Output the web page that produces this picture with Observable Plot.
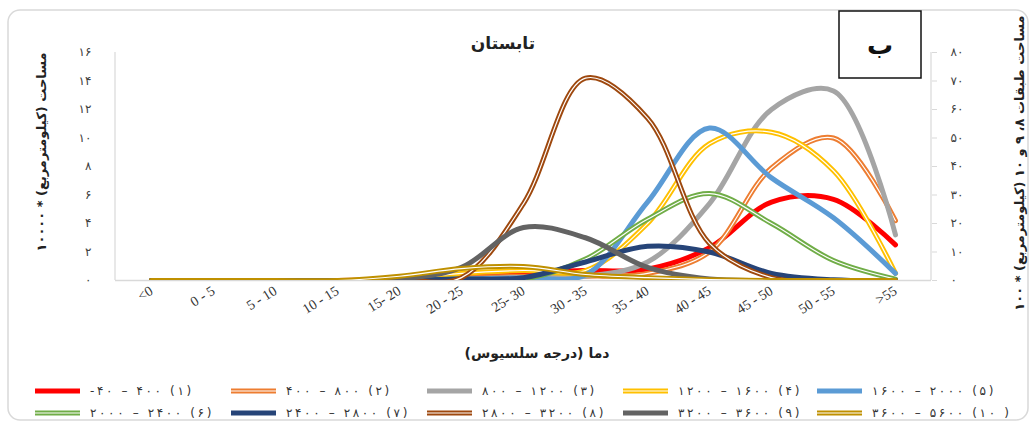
<!DOCTYPE html>
<html><head><meta charset="utf-8">
<script src="https://cdn.jsdelivr.net/npm/d3@7"></script>
<script src="https://cdn.jsdelivr.net/npm/@observablehq/plot@0.6"></script>
<style>
body{margin:0;background:#fff;}
#chart{position:relative;width:1031px;height:425px;}
.ltr{unicode-bidi:bidi-override;direction:ltr;}
</style>
</head><body><div id="chart"></div>
<script>
// ---- data ----
const categories = ["<0","0 - 5","5 - 10","10 - 15","15- 20","20 - 25","25- 30","30 - 35","35 - 40","40 - 45","45 - 50","50 - 55",">55"];
// left axis (km² × 10000)
const s1  = [0,0,0,0,0.1,0.4,0.6,0.7,0.8,2.3,5.5,5.7,2.5];
const s2  = [0,0,0,0,0,0.2,0.3,0.3,0.5,2.0,7.9,10.0,4.2];
const s3  = [0,0,0,0,0,0.1,0.2,0.3,1.3,5.4,12.0,13.3,3.2];
const s4  = [0,0,0,0,0.1,0.5,0.7,0.7,4.0,9.6,10.4,7.7,0.5];
const s5  = [0,0,0,0,0,0.1,0.2,0.4,5.5,10.7,7.2,4.4,0.5];
const s6  = [0,0,0,0,0,0.1,0.1,1.5,4.3,6.1,4.0,1.4,0.1];
const s7  = [0,0,0,0,0,0.1,0.2,1.3,2.4,2.0,0.5,0.05,0];
// right axis (km² × 100)
const s8  = [0,0,0,0,0.2,1,27,71,57,13,1,0,0];
const s9  = [0,0,0,0,0.5,4.6,18.6,15,4.6,0.5,0,0,0];
const s10 = [0,0,0,0,1.5,4.2,4.9,2.1,1.0,0.3,0,0,0];

const seriesLabels = ["-۴۰ – ۴۰۰ (۱)","۴۰۰ – ۸۰۰ (۲)","۸۰۰ – ۱۲۰۰ (۳)","۱۲۰۰ – ۱۶۰۰ (۴)","۱۶۰۰ – ۲۰۰۰ (۵)",
                      "۲۰۰۰ – ۲۴۰۰ (۶)","۲۴۰۰ – ۲۸۰۰ (۷)","۲۸۰۰ – ۳۲۰۰ (۸)","۳۲۰۰ – ۳۶۰۰ (۹)","۳۶۰۰ – ۵۶۰۰ (۱۰ )"];
const seriesColors = ["#FF0000","#ED7D31","#A5A5A5","#FFC000","#5B9BD5","#70AD47","#264478","#9E480E","#636363","#BF9000"];
const seriesAxis   = ["left","left","left","left","left","left","left","right","right","right"];
const seriesStyle  = ["solid","double","solid","double","solid","double","solid","double","solid","double"];
const leftTicks  = [0,2,4,6,8,10,12,14,16];
const rightTicks = [0,10,20,30,40,50,60,70,80];
const axisRatio = 5; // right / left

const titleText = "تابستان";
const panelLetter = "ب";
const xTitle = "دما (درجه سلسیوس)";
const yLeftTitle = "مساحت (کیلومترمربع) * ۱۰۰۰۰";
const yRightTitle = "مساحت طبقات ۸، ۹ و ۱۰ (کیلومترمربع) * ۱۰۰";

// ---- build ----
const fa = s => String(s).replace(/\d/g, d => "۰۱۲۳۴۵۶۷۸۹"[+d]);
const allSeries = [s1,s2,s3,s4,s5,s6,s7,s8,s9,s10];
const rows = [];
allSeries.forEach((vals, i) => vals.forEach((v, j) => rows.push({
  series: i, cat: categories[j], v: seriesAxis[i] === "right" ? v / axisRatio : v
})));

const marks = [Plot.ruleY([0], {stroke: "#d9d9d9", strokeWidth: 1.5})];
allSeries.forEach((_, i) => {
  const d = rows.filter(r => r.series === i);
  marks.push(Plot.line(d, {x: "cat", y: "v", stroke: seriesColors[i], strokeWidth: 5, curve: "catmull-rom", clip: true}));
  if (seriesStyle[i] === "double")
    marks.push(Plot.line(d, {x: "cat", y: "v", stroke: "#fff", strokeWidth: 1.2, curve: "catmull-rom", clip: true}));
});
marks.push(Plot.axisX({tickRotate: -32, tickSize: 0, tickPadding: 9, fontSize: 14, fontFamily: "Liberation Serif", label: null, fill: "#333"}));
marks.push(Plot.axisY({anchor: "left", ticks: leftTicks, tickFormat: fa, tickSize: 0, tickPadding: 24, label: null, fontSize: 12, fill: "#404040"}));
marks.push(Plot.axisY({anchor: "right", ticks: rightTicks.map(t => t / axisRatio), tickFormat: t => fa(Math.round(t * axisRatio)),
  tickSize: 5, tickPadding: 14, label: null, fontSize: 12, stroke: "#d9d9d9", fill: "#404040"}));

const chart = Plot.plot({
  width: 1031, height: 425,
  marginLeft: 115, marginRight: 100, marginTop: 52, marginBottom: 145,
  style: {fontFamily: "DejaVu Sans", background: "#fff", color: "#404040", overflow: "visible"},
  x: {type: "point", domain: categories, padding: 0.5},
  y: {domain: [0, 16]},
  marks
});
document.getElementById("chart").appendChild(chart);

const svg = d3.select(chart);
const ys = chart.scale("y");
const [yb, yt] = ys.range;
const [xl, xr] = [115, 1031 - 100];

// outer rounded border
svg.insert("rect", ":first-child").attr("x", 8).attr("y", 10).attr("width", 1020).attr("height", 410)
  .attr("rx", 12).attr("fill", "none").attr("stroke", "#d9d9d9").attr("stroke-width", 1.5);
// axis lines
svg.append("line").attr("x1", xl).attr("x2", xl).attr("y1", yt).attr("y2", yb).attr("stroke", "#d9d9d9").attr("stroke-width", 1.2);
svg.append("line").attr("x1", xr).attr("x2", xr).attr("y1", yt).attr("y2", yb).attr("stroke", "#d9d9d9").attr("stroke-width", 1.2);

// title
svg.append("text").attr("x", 503).attr("y", 49).attr("text-anchor", "middle").attr("direction", "rtl")
  .attr("font-size", 17).attr("font-weight", "bold").attr("fill", "#222").text(titleText);
// panel box
svg.append("rect").attr("x", 839).attr("y", 11).attr("width", 82).attr("height", 67)
  .attr("fill", "#fff").attr("stroke", "#111").attr("stroke-width", 1.5);
svg.append("text").attr("x", 880).attr("y", 54).attr("text-anchor", "middle")
  .attr("font-size", 26).attr("font-weight", "bold").attr("fill", "#111").text(panelLetter);
// x title
svg.append("text").attr("x", 537).attr("y", 358).attr("text-anchor", "middle").attr("direction", "rtl")
  .attr("font-size", 14).attr("font-weight", "bold").attr("fill", "#222").text(xTitle);
// y titles
svg.append("text").attr("transform", "translate(46,152) rotate(-90)").attr("text-anchor", "middle").attr("direction", "rtl")
  .attr("font-size", 13).attr("font-weight", "bold").attr("fill", "#222").text(yLeftTitle);
svg.append("text").attr("transform", "translate(1024,163) rotate(-90)").attr("text-anchor", "middle").attr("direction", "rtl")
  .attr("font-size", 13).attr("font-weight", "bold").attr("fill", "#222").text(yRightTitle);

// legend
const legX = [35, 231, 427, 623, 817], legY = [391, 413];
seriesLabels.forEach((lab, i) => {
  const x = legX[i % 5], y = legY[Math.floor(i / 5)];
  const g = svg.append("g");
  g.append("line").attr("x1", x).attr("x2", x + 45).attr("y1", y).attr("y2", y)
    .attr("stroke", seriesColors[i]).attr("stroke-width", 5);
  if (seriesStyle[i] === "double")
    g.append("line").attr("x1", x).attr("x2", x + 45).attr("y1", y).attr("y2", y)
      .attr("stroke", "#fff").attr("stroke-width", 1.2);
  const dx = Array.from(lab, (c, k) => k === 0 ? 0 : 2.6).join(" ");
  g.append("text").attr("class", "ltr").attr("x", x + 55).attr("y", y + 4).attr("font-size", 12)
    .attr("dx", dx).attr("text-anchor", "start").attr("fill", "#333").text(lab);
});
</script>
</body></html>
